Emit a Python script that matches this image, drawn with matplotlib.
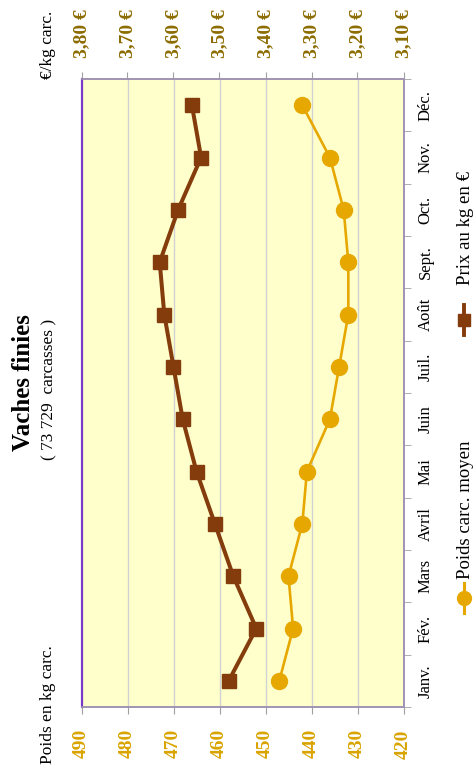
import matplotlib
matplotlib.use("Agg")
import matplotlib.pyplot as plt
from matplotlib.lines import Line2D
import numpy as np

months = ["Janv.", "Fév.", "Mars", "Avril", "Mai", "Juin", "Juil.", "Août",
          "Sept.", "Oct.", "Nov.", "Déc."]
poids = [447, 444, 445, 442, 441, 436, 434, 432, 432, 433, 436, 442]
prix = [3.48, 3.42, 3.47, 3.51, 3.55, 3.58, 3.60, 3.62, 3.63, 3.59, 3.54, 3.56]
poids_ticks = [420, 430, 440, 450, 460, 470, 480, 490]
prix_ticks = [3.10, 3.20, 3.30, 3.40, 3.50, 3.60, 3.70, 3.80]
title = "Vaches finies"
subtitle = "( 73 729  carcasses )"
label_poids = "Poids carc. moyen"
label_prix = "Prix au kg en €"

SERIF = ["Liberation Serif", "DejaVu Serif"]
C_PRIX = "#843c0c"
C_POIDS = "#e6a800"
C_PRIX_TXT = "#8c6c00"
C_POIDS_TXT = "#d9a400"
SPINE = "#a093b3"

W, H = 476, 772
fig = plt.figure(figsize=(W / 100, H / 100), dpi=100)
L, R, T, B = 81.5, 403.5, 79, 707
ax = fig.add_axes([L / W, 1 - B / H, (R - L) / W, (B - T) / H])
ax.set_facecolor("#ffffcc")

y = np.arange(len(months))
ax.set_xlim(max(poids_ticks), min(poids_ticks))
ax.set_ylim(-0.5, len(months) - 0.5)
ax.set_xticks(poids_ticks)
ax.set_xticklabels([str(v) for v in poids_ticks], rotation=90,
                   fontfamily=SERIF, fontweight="bold", fontsize=14, color=C_POIDS_TXT)
ax.tick_params(axis="x", direction="out", length=5, color="#a0a0a0", pad=11)
ax.grid(axis="x", color="#d2d2d2", linewidth=1)
ax.set_axisbelow(True)

ax.yaxis.tick_right()
ax.set_yticks(y)
ax.set_yticklabels(months, rotation=90, va="center", fontfamily=SERIF,
                   fontsize=12, color="black")
ax.set_yticks(np.arange(len(months) + 1) - 0.5, minor=True)
ax.tick_params(axis="y", which="major", length=0, pad=10)
ax.tick_params(axis="y", which="minor", direction="out", length=5, color="#a0a0a0",
               right=True, left=False)

for s in ["top", "bottom", "right"]:
    ax.spines[s].set_color(SPINE)
    ax.spines[s].set_linewidth(1.2)
ax.spines["left"].set_color("#7a3cc8")
ax.spines["left"].set_linewidth(1.5)

ax.plot(poids, y, color=C_POIDS, linewidth=1.9, marker="o", markersize=11.5,
        zorder=3, clip_on=False)

ax2 = ax.twiny()
ax2.set_xlim(max(prix_ticks), min(prix_ticks))
ax2.set_xticks(prix_ticks)
ax2.set_xticklabels([f"{v:.2f} €".replace(".", ",") for v in prix_ticks], rotation=90,
                    fontfamily=SERIF, fontweight="bold", fontsize=14, color=C_PRIX_TXT)
ax2.tick_params(axis="x", direction="out", length=5, color="#a0a0a0", pad=10)
for s in ["top", "bottom", "right"]:
    ax2.spines[s].set_color(SPINE)
    ax2.spines[s].set_linewidth(1.2)
ax2.spines["left"].set_color("#7a3cc8")
ax2.spines["left"].set_linewidth(1.5)
ax2.plot(prix, y, color=C_PRIX, linewidth=2.9, marker="s", markersize=10.5,
         zorder=3, clip_on=False)

# titles
fig.text(24 / W, 1 - 383 / H, title, rotation=90, ha="center", va="center",
         fontfamily=SERIF, fontweight="bold", fontsize=18)
fig.text(49 / W, 1 - 389 / H, subtitle, rotation=90, ha="center", va="center",
         fontfamily=SERIF, fontsize=12.5)
fig.text(48 / W, 1 - 705 / H, "Poids en kg carc.", rotation=90, ha="center", va="center",
         fontfamily=SERIF, fontsize=12.5)
fig.text(48 / W, 1 - 45 / H, "€/kg carc.", rotation=90, ha="center", va="center",
         fontfamily=SERIF, fontsize=12.5)

# manual rotated legend
def legend_entry(xc, yc, color, lw, marker, ms, text, text_bottom):
    fig.add_artist(Line2D([xc / W, xc / W], [1 - (yc + 15) / H, 1 - (yc - 15) / H],
                          transform=fig.transFigure, color=color, linewidth=lw))
    fig.add_artist(Line2D([xc / W], [1 - yc / H], transform=fig.transFigure,
                          color=color, marker=marker, markersize=ms, linestyle="none"))
    fig.text((xc + 1) / W, 1 - text_bottom / H, text, rotation=90, ha="center",
             va="bottom", fontfamily=SERIF, fontsize=13.5)

legend_entry(464, 598, C_POIDS, 2.2, "o", 10, label_poids, 579)
legend_entry(464, 320, C_PRIX, 2.8, "s", 9, label_prix, 285)

fig.savefig("out.png", dpi=100)
